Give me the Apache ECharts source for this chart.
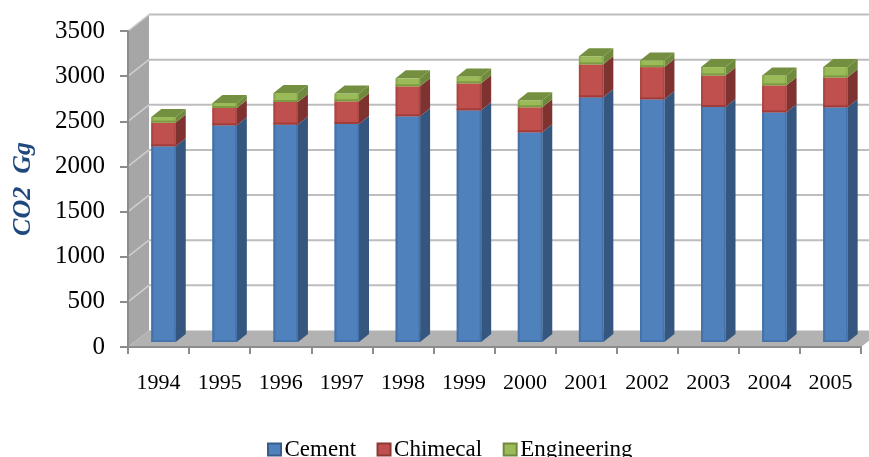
<!DOCTYPE html>
<html><head><meta charset="utf-8">
<style>html,body{margin:0;padding:0;background:#fff}#c{width:869px;height:457px}</style>
<script src="https://cdn.jsdelivr.net/npm/echarts@6/dist/echarts.min.js"></script>
</head><body><div id="c"></div>
<script>
var years = ['1994','1995','1996','1997','1998','1999','2000','2001','2002','2003','2004','2005'];
var cement = [2168,2400,2408,2415,2500,2566,2323,2710,2688,2603,2544,2600];
var chimecal = [262,192,250,251,332,299,277,365,357,350,299,331];
var engineering = [62,55,100,85,88,77,77,89,74,92,110,114];
var yTicks = [0,500,1000,1500,2000,2500,3000,3500];

var serif = '"Liberation Serif","Times New Roman",serif';
var WALL_DX = 21, WALL_DY = -16.5, BAR_DX = 5, BAR_DY = -5, SIDE_DX = 10, SIDE_DY = -8, BAR_RATIO = 0.4;

function stackBase(k, i){
  var t = 0;
  if (k > 0) t += cement[i];
  if (k > 1) t += chimecal[i];
  return t;
}
function poly(pts, fill, z2){ return {type:'polygon', z2:z2||0, shape:{points:pts}, style:{fill:fill}, silent:true}; }

function barRender(k, c){
  return function(params, api){
    var i = api.value(0), base = api.value(1), top = api.value(2);
    var p0 = api.coord([i, base]), p1 = api.coord([i, top]);
    var w = api.size([1,0])[0] * BAR_RATIO;
    var x0 = p0[0] + BAR_DX - w/2, x1 = x0 + w;
    var yb = p0[1] + BAR_DY, yt = p1[1] + BAR_DY;
    var kids = [
      poly([[x1,yb],[x1+SIDE_DX,yb+SIDE_DY],[x1+SIDE_DX,yt+SIDE_DY],[x1,yt]], c.side),
      {type:'rect', shape:{x:x0,y:yt,width:w,height:yb-yt}, style:{fill:c.front}, silent:true},
      {type:'rect', shape:{x:x0,y:yt,width:2,height:yb-yt}, style:{fill:c.edge}, silent:true},
      {type:'rect', shape:{x:x1-1.5,y:yt,width:1.5,height:yb-yt}, style:{fill:c.edge}, silent:true},
      {type:'rect', shape:{x:x0,y:yb-2,width:w,height:2}, style:{fill:c.bottom}, silent:true}
    ];
    if (c.topFace) {
      kids.push(poly([[x0,yt],[x1,yt],[x1+SIDE_DX,yt+SIDE_DY],[x0+SIDE_DX,yt+SIDE_DY]], c.topFace));
    }
    return {type:'group', children:kids};
  };
}
function frameRender(params, api){
  var v = api.value(1);
  var p = api.coord([0, v]);
  var left = api.coord([0,0]);
  var xl = left[0] - api.size([1,0])[0]/2;
  var xr = xl + api.size([1,0])[0]*years.length;
  var kids = [];
  if (params.dataIndex === 0) {
    var topY = api.coord([0, yTicks[yTicks.length-1]])[1], y0 = left[1];
    kids.push(poly([[xl,y0],[xl,topY],[xl+WALL_DX,topY+WALL_DY],[xl+WALL_DX,y0+WALL_DY]], '#a6a6a6'));
    kids.push(poly([[xl,y0],[xr,y0],[xr+WALL_DX,y0+WALL_DY],[xl+WALL_DX,y0+WALL_DY]], '#b2b2b2'));
  } else {
    kids.push({type:'line', shape:{x1:xl+WALL_DX,y1:p[1]+WALL_DY,x2:xr+WALL_DX,y2:p[1]+WALL_DY}, style:{stroke:'#bdbdbd',lineWidth:2}, silent:true});
    kids.push({type:'line', shape:{x1:xl,y1:p[1],x2:xl+WALL_DX,y2:p[1]+WALL_DY}, style:{stroke:'#cfcfcf',lineWidth:1.5}, silent:true});
  }
  return {type:'group', children:kids};
}
var palettes = [
  {front:'#4f81bd', side:'#34567f', edge:'#4471a8', bottom:'#4673ab', legend:'#4f81bd', border:'#385d8a'},
  {front:'#c0504d', side:'#7f3331', edge:'#aa4744', bottom:'#a03d3a', legend:'#c0504d', border:'#8c3836'},
  {front:'#9bbb59', side:'#6f8a3c', edge:'#8aa84e', bottom:'#7d9a42', topFace:'#748f3f', legend:'#9bbb59', border:'#71893f'}
];
var names = ['Cement','Chimecal','Engineering'];
var values = [cement, chimecal, engineering];

var series = [{
  type:'custom', name:'frame', coordinateSystem:'cartesian2d', z:1, silent:true, clip:false,
  renderItem: frameRender, encode:{x:0,y:1},
  data: yTicks.map(function(t){ return [0,t]; })
}];
names.forEach(function(n,k){
  series.push({
    type:'custom', name:n, coordinateSystem:'cartesian2d', z:2+k, clip:false, silent:true,
    itemStyle:{color:palettes[k].legend, borderColor:palettes[k].border, borderWidth:1.5},
    renderItem: barRender(k, palettes[k]), encode:{x:0,y:[1,2]},
    data: values[k].map(function(v,i){ var b = stackBase(k,i); return [i,b,b+v]; })
  });
});

var chart = echarts.init(document.getElementById('c'), null, {renderer:'canvas'});
chart.setOption({
  animation:false,
  backgroundColor:'#fff',
  grid:{left:128,right:8,top:31,bottom:110,containLabel:false,outerBoundsMode:'none'},
  xAxis:{type:'category',data:years,z:5,
    axisLine:{lineStyle:{color:'#8c8c8c',width:2}},
    axisTick:{show:true,length:7,alignWithLabel:false,lineStyle:{color:'#8c8c8c',width:2}},
    axisLabel:{color:'#000',fontFamily:serif,fontSize:22,margin:25,interval:0},
    splitLine:{show:false}},
  yAxis:{type:'value',min:0,max:3500,interval:500,z:5,
    name:'CO2  Gg',nameLocation:'middle',nameGap:92,nameRotate:90,
    nameTextStyle:{color:'#1f497d',fontFamily:serif,fontSize:26,fontWeight:'bold',fontStyle:'italic'},
    axisLine:{show:true,lineStyle:{color:'#8c8c8c',width:2}},
    axisTick:{show:true,length:8,lineStyle:{color:'#8c8c8c',width:2}},
    axisLabel:{color:'#000',fontFamily:serif,fontSize:25,margin:23,formatter:function(v){return String(v);}},
    splitLine:{show:false}},
  legend:{data:names,left:262,top:433,itemWidth:13,itemHeight:12,itemGap:20.5,icon:'rect',
    textStyle:{color:'#000',fontFamily:serif,fontSize:23,padding:[0,0,0,-1.5]}},
  series:series
});
</script></body></html>
